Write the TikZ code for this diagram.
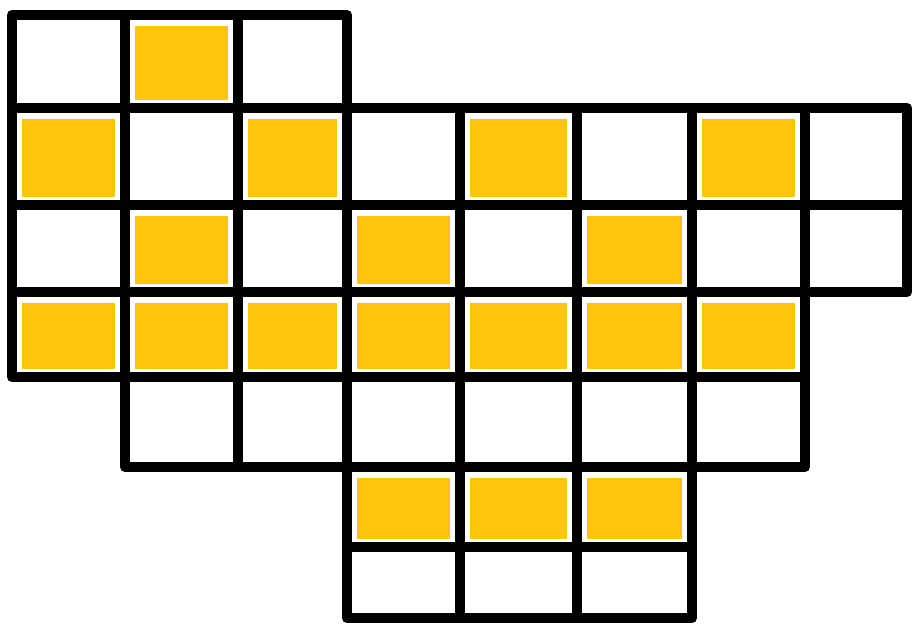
\documentclass[tikz,border=0pt]{standalone}
\definecolor{gold}{HTML}{FFC50D}
\begin{document}
\begin{tikzpicture}[x=0.5pt,y=-0.5pt,
  gridline/.style={line width=5pt, line join=round, line cap=round, draw=black},
  goldcell/.style={fill=gold}]
\useasboundingbox (0,0) rectangle (912,629);
\def\X{{12,125,238,347,460,577,692,805,907}}
\def\Y{{15,108,205,292,377,467,547,618}}
% yellow cells (row/col)
\foreach \r/\c in {0/1, 1/0,1/2,1/4,1/6, 2/1,2/3,2/5,
                   3/0,3/1,3/2,3/3,3/4,3/5,3/6, 5/3,5/4,5/5} {
  \pgfmathsetmacro\xa{\X[\c]+10}
  \pgfmathsetmacro\xb{\X[\c+1]-10}
  \pgfmathsetmacro\ya{\Y[\r]+11}
  \pgfmathsetmacro\yb{\Y[\r+1]-8}
  \fill[goldcell] (\xa,\ya) rectangle (\xb,\yb);
}
% grid cells: row/first col/last col
\foreach \r/\a/\b in {0/0/2, 1/0/7, 2/0/7, 3/0/6, 4/1/6, 5/3/5, 6/3/5} {
  \foreach \c in {\a,...,\b} {
    \pgfmathsetmacro\xa{\X[\c]}
    \pgfmathsetmacro\xb{\X[\c+1]}
    \pgfmathsetmacro\ya{\Y[\r]}
    \pgfmathsetmacro\yb{\Y[\r+1]}
    \draw[gridline] (\xa,\ya) rectangle (\xb,\yb);
  }
}
\end{tikzpicture}
\end{document}
